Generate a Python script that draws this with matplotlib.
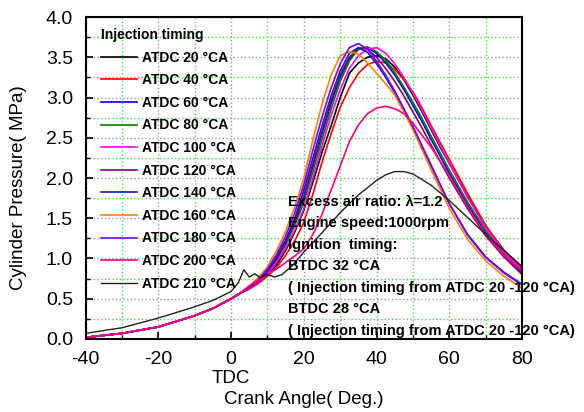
import matplotlib
matplotlib.use('Agg')
import matplotlib.pyplot as plt
from matplotlib.ticker import MultipleLocator

plt.rcParams['font.family'] = ['Liberation Sans', 'DejaVu Sans']
plt.rcParams['axes.unicode_minus'] = False

# crank angle (deg) shared by the first ten runs
crank = [-40, -30, -20, -10, -5, 0, 2.5, 5, 7.5, 10, 12.5, 15, 17.5, 20, 22.5, 25,
         27.5, 30, 32.5, 35, 37.5, 40, 42.5, 45, 47.5, 50, 52.5, 55, 57.5, 60,
         65, 70, 75, 80]
# motoring part, identical for these runs
compression = [0.02, 0.07, 0.15, 0.29, 0.38, 0.50, 0.57]

p_20 = compression + [0.63, 0.70, 0.80, 0.92, 1.10, 1.33, 1.60, 1.95, 2.32, 2.65, 3.00, 3.30, 3.43, 3.50,
                      3.52, 3.48, 3.38, 3.22, 3.03, 2.82, 2.60, 2.38, 2.18, 1.77, 1.40, 1.10, 0.89]
p_40 = compression + [0.62, 0.69, 0.78, 0.89, 1.04, 1.22, 1.45, 1.80, 2.20, 2.55, 2.88, 3.12, 3.30, 3.41,
                      3.45, 3.43, 3.35, 3.22, 3.07, 2.87, 2.65, 2.44, 2.23, 1.81, 1.41, 1.10, 0.88]
p_60 = compression + [0.64, 0.72, 0.84, 1.00, 1.20, 1.45, 1.75, 2.15, 2.55, 2.93, 3.25, 3.48, 3.60, 3.62,
                      3.55, 3.43, 3.28, 3.10, 2.90, 2.70, 2.48, 2.27, 2.06, 1.67, 1.32, 1.04, 0.82]
p_80 = compression + [0.64, 0.72, 0.83, 0.98, 1.17, 1.41, 1.70, 2.08, 2.48, 2.86, 3.20, 3.45, 3.60, 3.63,
                      3.57, 3.46, 3.31, 3.13, 2.94, 2.74, 2.52, 2.31, 2.10, 1.70, 1.35, 1.06, 0.84]
p_100 = compression + [0.63, 0.71, 0.81, 0.95, 1.13, 1.35, 1.62, 2.00, 2.40, 2.78, 3.10, 3.36, 3.52, 3.60,
                       3.62, 3.55, 3.42, 3.25, 3.05, 2.84, 2.62, 2.40, 2.18, 1.76, 1.38, 1.08, 0.86]
p_120 = compression + [0.64, 0.72, 0.84, 1.00, 1.20, 1.46, 1.78, 2.18, 2.58, 2.96, 3.28, 3.50, 3.62, 3.60,
                       3.50, 3.36, 3.20, 3.02, 2.82, 2.62, 2.41, 2.20, 2.00, 1.62, 1.28, 1.02, 0.80]
p_140 = compression + [0.65, 0.73, 0.85, 1.02, 1.23, 1.50, 1.85, 2.25, 2.65, 3.02, 3.33, 3.55, 3.62, 3.56,
                       3.42, 3.25, 3.06, 2.85, 2.63, 2.39, 2.15, 1.91, 1.68, 1.30, 1.02, 0.83, 0.68]
p_160 = compression + [0.66, 0.76, 0.90, 1.10, 1.34, 1.64, 2.00, 2.48, 2.92, 3.28, 3.52, 3.57, 3.54, 3.43,
                       3.30, 3.17, 3.03, 2.82, 2.60, 2.35, 2.10, 1.86, 1.62, 1.24, 0.97, 0.78, 0.63]
p_180 = compression + [0.65, 0.74, 0.87, 1.05, 1.28, 1.57, 1.92, 2.35, 2.76, 3.12, 3.42, 3.62, 3.67, 3.60,
                       3.45, 3.28, 3.08, 2.86, 2.64, 2.40, 2.16, 1.92, 1.68, 1.29, 1.01, 0.82, 0.67]
p_200 = compression + [0.66, 0.73, 0.80, 0.87, 0.95, 1.03, 1.12, 1.30, 1.55, 1.85, 2.15, 2.45, 2.66, 2.80,
                       2.87, 2.89, 2.86, 2.80, 2.68, 2.53, 2.38, 2.21, 2.03, 1.64, 1.30, 1.04, 0.84]

# ATDC 210 run, sampled on its own grid
crank_210 = [-40, -30, -20, -10, -5, 0, 2, 3.5, 5, 6.5, 8, 10, 12, 14, 17, 20, 25, 30, 35, 40,
             42.5, 45, 47.5, 50, 55, 60, 65, 70, 75, 80]
p_210 = [0.07, 0.14, 0.26, 0.40, 0.48, 0.59, 0.70, 0.86, 0.77, 0.81, 0.76, 0.80, 0.77, 0.80, 0.92,
         1.08, 1.32, 1.57, 1.79, 1.97, 2.04, 2.08, 2.08, 2.05, 1.91, 1.72, 1.51, 1.30, 1.10, 0.90]

labels = ['ATDC 20 °CA', 'ATDC 40 °CA', 'ATDC 60 °CA', 'ATDC 80 °CA', 'ATDC 100 °CA',
          'ATDC 120 °CA', 'ATDC 140 °CA', 'ATDC 160 °CA', 'ATDC 180 °CA', 'ATDC 200 °CA',
          'ATDC 210 °CA']
colors = ['black', '#ff0000', '#0000ff', '#008000', '#ff00ff', '#800080', '#1a1ab3',
          '#ff8000', '#8000ff', '#ff0080', '#222222']

notes = ['Excess air ratio: λ=1.2', 'Engine speed:1000rpm', 'Ignition  timing:',
         'BTDC 32 °CA', '( Injection timing from ATDC 20 -120 °CA)',
         'BTDC 28 °CA', '( Injection timing from ATDC 20 -120 °CA)']

fig = plt.figure(figsize=(5.84, 4.12), dpi=100)
ax = fig.add_axes([0.1466, 0.1772, 0.7474, 0.7815])

series = [p_20, p_40, p_60, p_80, p_100, p_120, p_140, p_160, p_180, p_200]
for p, c, lab in zip(series, colors[:10], labels[:10]):
    ax.plot(crank, p, color=c, lw=1.2, label=lab)
ax.plot(crank_210, p_210, color=colors[10], lw=1.0, label=labels[10])

# axes formatting
ax.set_xlim(-40, 80)
ax.set_ylim(0, 4)
ax.xaxis.set_major_locator(MultipleLocator(20))
ax.xaxis.set_minor_locator(MultipleLocator(10))
ax.yaxis.set_major_locator(MultipleLocator(0.5))
ax.yaxis.set_minor_locator(MultipleLocator(0.25))
ax.yaxis.set_major_formatter(plt.FormatStrFormatter('%.1f'))
ax.grid(which='major', color='#999999', linestyle=':', linewidth=1.0)
ax.grid(which='minor', color='#33ee33', linestyle=':', linewidth=1.0)
ax.set_axisbelow(True)
ax.tick_params(which='both', direction='in', top=False, right=False, labelsize=14)
ax.tick_params(which='major', length=5, width=1.2)
ax.tick_params(which='minor', length=3, width=1.0)
ax.tick_params(axis='x', which='major', pad=9)
ax.tick_params(axis='y', which='major', pad=9)
for s in ax.spines.values():
    s.set_linewidth(1.5)

ax.set_ylabel('Cylinder Pressure( MPa)', fontsize=13.5)
ax.yaxis.set_label_coords(-0.135, 0.47)
ax.set_xlabel('Crank Angle( Deg.)', fontsize=13.5, labelpad=16)
ax.text(0, -0.49, 'TDC', ha='center', va='center', fontsize=13.5)

leg = ax.legend(loc='upper left', bbox_to_anchor=(0.036, 0.966), frameon=False,
                title='Injection timing', alignment='left',
                title_fontproperties={'weight': 'bold', 'size': 10},
                prop={'weight': 'bold', 'size': 10},
                handlelength=2.6, handletextpad=0.3, labelspacing=0.62,
                borderpad=0, borderaxespad=0)

y0 = 1.705
for i, t in enumerate(notes):
    ax.text(15.6, y0 - i * 0.267, t, fontsize=10.5, fontweight='bold', va='center',
            ha='left', clip_on=False)

fig.savefig('out.png', dpi=100)
